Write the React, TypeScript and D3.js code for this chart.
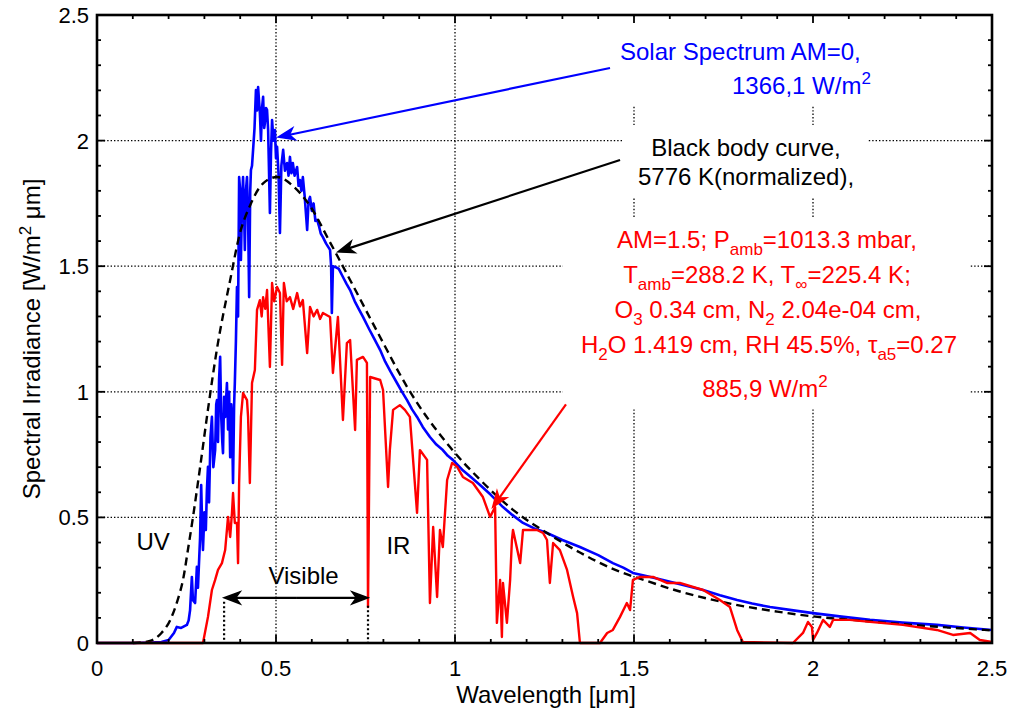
import React from 'react';
import * as d3 from 'd3';

const WIDTH = 1013;
const HEIGHT = 715;
const PLOT = { left: 97, right: 992, top: 15, bottom: 643 };

const xMajorTicks = [0, 0.5, 1, 1.5, 2, 2.5];
const xTickLabels = ['0', '0.5', '1', '1.5', '2', '2.5'];
const yMajorTicks = [0, 0.5, 1, 1.5, 2, 2.5];
const yTickLabels = ['0', '0.5', '1', '1.5', '2', '2.5'];
const minorStep = 0.1;

// Extraterrestrial solar spectrum (AM0), wavelength [um] vs irradiance
const am0Spectrum: [number, number][] = [
  [0, 0], [0.1, 0], [0.15, 0.002], [0.18, 0.004], [0.2, 0.012], [0.215, 0.04], [0.223, 0.064],
  [0.235, 0.06], [0.251, 0.072], [0.256, 0.09], [0.26, 0.131], [0.265, 0.263], [0.268, 0.17],
  [0.274, 0.159], [0.279, 0.303], [0.282, 0.22], [0.288, 0.422], [0.291, 0.629], [0.294, 0.45],
  [0.296, 0.37], [0.3, 0.52], [0.304, 0.45], [0.307, 0.609], [0.31, 0.701], [0.313, 0.56],
  [0.317, 0.82], [0.321, 0.9], [0.325, 0.7], [0.33, 0.768], [0.333, 0.95], [0.335, 0.967],
  [0.338, 0.8], [0.341, 1.05], [0.344, 1.139], [0.347, 0.9], [0.35, 0.8], [0.352, 0.756],
  [0.355, 0.98], [0.358, 0.9], [0.363, 1.035], [0.366, 0.85], [0.369, 1.0], [0.372, 0.74],
  [0.375, 0.95], [0.377, 0.9], [0.38, 0.637], [0.383, 0.95], [0.385, 1.035], [0.388, 1.2],
  [0.391, 1.417], [0.394, 1.3], [0.397, 1.855], [0.4, 1.8], [0.402, 1.525], [0.405, 1.75],
  [0.408, 1.855], [0.411, 1.7], [0.413, 1.565], [0.416, 1.8], [0.419, 1.855], [0.422, 1.7],
  [0.425, 1.377], [0.428, 1.8], [0.43, 1.883], [0.433, 1.9], [0.436, 1.963], [0.44, 2.05],
  [0.444, 2.201], [0.447, 2.12], [0.45, 2.213], [0.453, 2.15], [0.455, 2.11], [0.458, 2.0],
  [0.461, 2.13], [0.464, 2.174], [0.467, 2.05], [0.469, 2.07], [0.472, 2.13], [0.475, 2.122],
  [0.478, 2.042], [0.483, 1.712], [0.486, 1.95], [0.489, 2.082], [0.493, 2.0], [0.497, 2.042],
  [0.5, 1.93], [0.503, 1.975], [0.507, 1.87], [0.511, 1.632], [0.515, 1.9], [0.52, 1.963],
  [0.525, 1.88], [0.531, 1.911], [0.535, 1.86], [0.539, 1.935], [0.543, 1.87], [0.547, 1.911],
  [0.552, 1.86], [0.559, 1.895], [0.563, 1.82], [0.567, 1.843], [0.571, 1.8], [0.575, 1.855],
  [0.58, 1.78], [0.587, 1.644], [0.591, 1.76], [0.595, 1.776], [0.6, 1.72], [0.605, 1.75],
  [0.61, 1.68], [0.615, 1.684], [0.62, 1.66], [0.625, 1.63], [0.631, 1.616], [0.64, 1.59],
  [0.651, 1.565], [0.654, 1.5], [0.656, 1.314], [0.659, 1.5], [0.665, 1.497], [0.675, 1.49],
  [0.687, 1.457], [0.697, 1.43], [0.707, 1.405], [0.72, 1.36], [0.731, 1.33], [0.743, 1.298],
  [0.76, 1.25], [0.775, 1.21], [0.791, 1.166], [0.805, 1.12], [0.82, 1.08], [0.838, 1.035],
  [0.852, 1.0], [0.866, 0.967], [0.88, 0.93], [0.894, 0.9], [0.91, 0.86], [0.93, 0.82],
  [0.948, 0.79], [0.966, 0.768], [0.98, 0.745], [0.994, 0.729], [1.02, 0.69], [1.045, 0.66],
  [1.07, 0.629], [1.1, 0.59], [1.134, 0.541], [1.16, 0.51], [1.19, 0.478], [1.22, 0.457],
  [1.257, 0.438], [1.3, 0.41], [1.349, 0.382], [1.4, 0.35], [1.441, 0.318], [1.47, 0.3],
  [1.497, 0.279], [1.54, 0.265], [1.581, 0.251], [1.64, 0.23], [1.693, 0.211], [1.74, 0.19],
  [1.788, 0.171], [1.83, 0.157], [1.88, 0.143], [1.94, 0.131], [2.0, 0.119], [2.08, 0.105],
  [2.159, 0.092], [2.25, 0.081], [2.346, 0.072], [2.42, 0.062], [2.5, 0.052],
];

// Terrestrial spectrum at AM1.5
const am15Spectrum: [number, number][] = [
  [0, 0], [0.296, 0], [0.31, 0.104], [0.321, 0.211], [0.33, 0.251], [0.338, 0.291],
  [0.349, 0.318], [0.358, 0.37], [0.366, 0.502], [0.372, 0.422], [0.377, 0.518], [0.38, 0.597],
  [0.385, 0.478], [0.391, 0.478], [0.394, 0.318], [0.397, 0.637], [0.402, 0.9], [0.408, 0.995],
  [0.419, 0.967], [0.422, 0.9], [0.427, 0.637], [0.433, 1.035], [0.441, 1.087], [0.447, 1.326],
  [0.455, 1.365], [0.46, 1.3], [0.464, 1.377], [0.47, 1.33], [0.475, 1.405], [0.483, 1.099],
  [0.489, 1.433], [0.495, 1.36], [0.503, 1.417], [0.511, 1.393], [0.517, 1.107], [0.522, 1.433],
  [0.53, 1.36], [0.539, 1.377], [0.548, 1.33], [0.559, 1.393], [0.567, 1.34], [0.575, 1.365],
  [0.587, 1.154], [0.595, 1.338], [0.605, 1.3], [0.615, 1.326], [0.623, 1.29], [0.631, 1.314],
  [0.651, 1.298], [0.659, 1.075], [0.673, 1.298], [0.687, 0.888], [0.698, 1.194], [0.707, 1.206],
  [0.721, 0.848], [0.726, 1.127], [0.743, 1.139], [0.754, 1.115], [0.757, 0.143], [0.763, 1.059],
  [0.791, 1.047], [0.799, 1.007], [0.813, 0.621], [0.818, 0.768], [0.827, 0.928], [0.846, 0.947],
  [0.86, 0.928], [0.874, 0.9], [0.894, 0.518], [0.902, 0.768], [0.922, 0.729], [0.93, 0.159],
  [0.939, 0.462], [0.95, 0.183], [0.958, 0.45], [0.966, 0.382], [0.978, 0.649], [0.992, 0.717],
  [1.006, 0.701], [1.022, 0.661], [1.05, 0.637], [1.078, 0.581], [1.098, 0.502], [1.112, 0.541],
  [1.117, 0.08], [1.126, 0.251], [1.131, 0.024], [1.134, 0.239], [1.145, 0.08], [1.154, 0.251],
  [1.159, 0.41], [1.162, 0.45], [1.182, 0.318], [1.19, 0.45], [1.209, 0.45], [1.229, 0.45],
  [1.246, 0.438], [1.257, 0.41], [1.265, 0.239], [1.274, 0.398], [1.293, 0.37], [1.313, 0.291],
  [1.33, 0.183], [1.341, 0.119], [1.349, 0], [1.405, 0], [1.425, 0.04], [1.441, 0.052],
  [1.461, 0.104], [1.48, 0.159], [1.489, 0.131], [1.497, 0.251], [1.517, 0.263], [1.553, 0.263],
  [1.592, 0.239], [1.628, 0.239], [1.693, 0.211], [1.74, 0.171], [1.768, 0.143], [1.788, 0.052],
  [1.804, 0.004], [1.944, 0], [1.972, 0.04], [1.986, 0.084], [1.997, 0.064], [2.0, 0.012],
  [2.011, 0.04], [2.028, 0.092], [2.047, 0.064], [2.056, 0.092], [2.103, 0.092], [2.159, 0.084],
  [2.251, 0.072], [2.346, 0.052], [2.391, 0.032], [2.439, 0.04], [2.466, 0.012], [2.5, 0.004],
];

// Black body curve at 5776 K, normalized
const blackBodyCurve: [number, number][] = [
  [0.1, 0], [0.12, 0.002], [0.148, 0.008], [0.18, 0.04], [0.204, 0.09], [0.225, 0.17],
  [0.24, 0.25], [0.255, 0.38], [0.268, 0.5], [0.288, 0.7], [0.31, 0.93], [0.335, 1.17],
  [0.372, 1.445], [0.399, 1.63], [0.427, 1.74], [0.464, 1.83], [0.503, 1.855], [0.547, 1.82],
  [0.595, 1.74], [0.651, 1.595], [0.707, 1.445], [0.79, 1.22], [0.866, 1.02], [0.986, 0.78],
  [1.07, 0.65], [1.162, 0.53], [1.257, 0.438], [1.349, 0.36], [1.441, 0.295], [1.54, 0.245],
  [1.628, 0.205], [1.71, 0.175], [1.8, 0.148], [1.9, 0.125], [2.0, 0.106], [2.125, 0.09],
  [2.25, 0.075], [2.375, 0.062], [2.5, 0.05],
];

// Visible band limits [um]
const visibleBand = [0.355, 0.757];

const x = d3.scaleLinear().domain([0, 2.5]).range([PLOT.left, PLOT.right]);
const y = d3.scaleLinear().domain([0, 2.5]).range([PLOT.bottom, PLOT.top]);

const line = d3
  .line<[number, number]>()
  .x((d) => x(d[0]))
  .y((d) => y(d[1]));

const smoothLine = d3
  .line<[number, number]>()
  .x((d) => x(d[0]))
  .y((d) => y(d[1]))
  .curve(d3.curveMonotoneX);

const FONT = '"Liberation Sans", Arial, Helvetica, sans-serif';
const ANNOT = 24;
const SUB = 17;

function arrowHead(x1: number, y1: number, x2: number, y2: number, color: string, len = 16, half = 6) {
  const a = Math.atan2(y2 - y1, x2 - x1);
  const pts: [number, number][] = [
    [0, 0],
    [-len, half],
    [-len * 0.72, 0],
    [-len, -half],
  ];
  const p = pts
    .map(([u, v]) => [x2 + u * Math.cos(a) - v * Math.sin(a), y2 + u * Math.sin(a) + v * Math.cos(a)])
    .map((q) => q.join(','))
    .join(' ');
  return <polygon points={p} fill={color} stroke={color} strokeWidth={1.5} strokeLinejoin="miter" />;
}

function Arrow({ from, to, color }: { from: [number, number]; to: [number, number]; color: string }) {
  const x1 = x(from[0]);
  const y1 = y(from[1]);
  const x2 = x(to[0]);
  const y2 = y(to[1]);
  const a = Math.atan2(y2 - y1, x2 - x1);
  return (
    <g>
      <line x1={x1} y1={y1} x2={x2 - 8 * Math.cos(a)} y2={y2 - 8 * Math.sin(a)} stroke={color} strokeWidth={2.2} />
      {arrowHead(x1, y1, x2, y2, color)}
    </g>
  );
}

export default function App() {
  const xMinor = d3.range(0, 2.5001, minorStep);
  const yMinor = d3.range(0, 2.5001, minorStep);
  const gridX = xMajorTicks.slice(1, -1);
  const gridY = yMajorTicks.slice(1, -1);

  const tickLen = (v: number) => (Math.abs(v * 2 - Math.round(v * 2)) < 1e-6 ? 8 : 4);

  const visY = y(0.18);

  return (
    <svg
      width={WIDTH}
      height={HEIGHT}
      style={{ position: 'fixed', left: 0, top: 0, background: '#fff' }}
      fontFamily={FONT}
    >
      <rect x={0} y={0} width={WIDTH} height={HEIGHT} fill="#fff" />

      {/* dotted grid */}
      <g stroke="#000" strokeWidth={1.3} strokeDasharray="1.4,2">
        {gridX.map((v) => (
          <line key={'gx' + v} x1={x(v)} x2={x(v)} y1={PLOT.top} y2={PLOT.bottom} />
        ))}
        {gridY.map((v) => (
          <line key={'gy' + v} x1={PLOT.left} x2={PLOT.right} y1={y(v)} y2={y(v)} />
        ))}
      </g>

      {/* white boxes behind annotation text */}
      <g fill="#fff">
        <rect x={612} y={PLOT.top + 2} width={272} height={88} />
        <rect x={623} y={125} width={245} height={72} />
        <rect x={563} y={217} width={407} height={192} />
      </g>

      {/* spectra */}
      <path d={line(am0Spectrum) ?? ''} fill="none" stroke="#0000ff" strokeWidth={2.6} strokeLinejoin="round" />
      <path
        d={smoothLine(blackBodyCurve) ?? ''}
        fill="none"
        stroke="#000"
        strokeWidth={2.4}
        strokeDasharray="8,5"
      />
      <path d={line(am15Spectrum) ?? ''} fill="none" stroke="#ff0000" strokeWidth={2.4} strokeLinejoin="round" />

      {/* visible band markers */}
      <g stroke="#000" strokeWidth={2.2} strokeDasharray="2,2.5">
        <line x1={x(visibleBand[0])} x2={x(visibleBand[0])} y1={visY + 4} y2={PLOT.bottom} />
        <line x1={x(visibleBand[1])} x2={x(visibleBand[1])} y1={visY + 8} y2={PLOT.bottom} />
      </g>
      <Arrow from={[(visibleBand[0] + visibleBand[1]) / 2, 0.18]} to={[visibleBand[0], 0.18]} color="#000" />
      <Arrow from={[(visibleBand[0] + visibleBand[1]) / 2, 0.18]} to={[visibleBand[1], 0.18]} color="#000" />

      {/* annotation arrows */}
      <Arrow from={[1.433, 2.289]} to={[0.506, 2.014]} color="#0000ff" />
      <Arrow from={[1.461, 1.923]} to={[0.673, 1.557]} color="#000" />
      <Arrow from={[1.31, 0.95]} to={[1.105, 0.54]} color="#ff0000" />

      {/* region labels */}
      <g fontSize={ANNOT} fill="#000">
        <text x={x(0.157)} y={y(0.37)} textAnchor="middle">UV</text>
        <text x={x(0.577)} y={y(0.235)} textAnchor="middle">Visible</text>
        <text x={x(0.842)} y={y(0.355)} textAnchor="middle">IR</text>
      </g>

      {/* blue annotation */}
      <g fontSize={ANNOT} fill="#0000ff">
        <text x={620} y={60}>Solar Spectrum AM=0,</text>
        <text x={732} y={94}>
          1366,1 W/m
          <tspan fontSize={SUB} dy={-10}>2</tspan>
        </text>
      </g>

      {/* black annotation */}
      <g fontSize={ANNOT} fill="#000" textAnchor="middle">
        <text x={746} y={156}>Black body curve,</text>
        <text x={746} y={185}>5776 K(normalized),</text>
      </g>

      {/* red annotation */}
      <g fontSize={ANNOT} fill="#ff0000" textAnchor="middle">
        <text x={767} y={248}>
          AM=1.5; P<tspan fontSize={SUB} dy={7}>amb</tspan>
          <tspan dy={-7}>=1013.3 mbar,</tspan>
        </text>
        <text x={767} y={283}>
          T<tspan fontSize={SUB} dy={7}>amb</tspan>
          <tspan dy={-7}>=288.2 K, T</tspan>
          <tspan fontSize={SUB} dy={7}>∞</tspan>
          <tspan dy={-7}>=225.4 K;</tspan>
        </text>
        <text x={768} y={318}>
          O<tspan fontSize={SUB} dy={7}>3</tspan>
          <tspan dy={-7}> 0.34 cm, N</tspan>
          <tspan fontSize={SUB} dy={7}>2</tspan>
          <tspan dy={-7}> 2.04e-04 cm,</tspan>
        </text>
        <text x={769} y={353}>
          H<tspan fontSize={SUB} dy={7}>2</tspan>
          <tspan dy={-7}>O 1.419 cm, RH 45.5%, τ</tspan>
          <tspan fontSize={SUB} dy={7}>a5</tspan>
          <tspan dy={-7}>=0.27</tspan>
        </text>
        <text x={765} y={397}>
          885,9 W/m<tspan fontSize={SUB} dy={-10}>2</tspan>
        </text>
      </g>

      {/* axes frame and ticks */}
      <g stroke="#000" strokeWidth={1.8}>
        {xMinor.map((v) => (
          <g key={'xt' + v}>
            <line x1={x(v)} x2={x(v)} y1={PLOT.bottom} y2={PLOT.bottom - tickLen(v)} />
            <line x1={x(v)} x2={x(v)} y1={PLOT.top} y2={PLOT.top + tickLen(v)} />
          </g>
        ))}
        {yMinor.map((v) => (
          <g key={'yt' + v}>
            <line x1={PLOT.left} x2={PLOT.left + tickLen(v)} y1={y(v)} y2={y(v)} />
            <line x1={PLOT.right} x2={PLOT.right - tickLen(v)} y1={y(v)} y2={y(v)} />
          </g>
        ))}
      </g>
      <rect
        x={PLOT.left}
        y={PLOT.top}
        width={PLOT.right - PLOT.left}
        height={PLOT.bottom - PLOT.top}
        fill="none"
        stroke="#000"
        strokeWidth={2.6}
      />

      {/* tick labels */}
      <g fontSize={22} fill="#000">
        {xMajorTicks.map((v, i) => (
          <text key={'xl' + v} x={x(v)} y={PLOT.bottom + 33} textAnchor="middle">
            {xTickLabels[i]}
          </text>
        ))}
        {yMajorTicks.map((v, i) => (
          <text key={'yl' + v} x={PLOT.left - 8} y={y(v)} dy="0.36em" textAnchor="end">
            {yTickLabels[i]}
          </text>
        ))}
      </g>

      {/* axis titles */}
      <text x={546} y={703} fontSize={24} textAnchor="middle" fill="#000">
        Wavelength [μm]
      </text>
      <text transform="translate(40,339) rotate(-90)" fontSize={24} textAnchor="middle" fill="#000">
        Spectral Irradiance [W/m<tspan fontSize={SUB} dy={-9}>2</tspan>
        <tspan dy={9}> μm]</tspan>
      </text>
    </svg>
  );
}
